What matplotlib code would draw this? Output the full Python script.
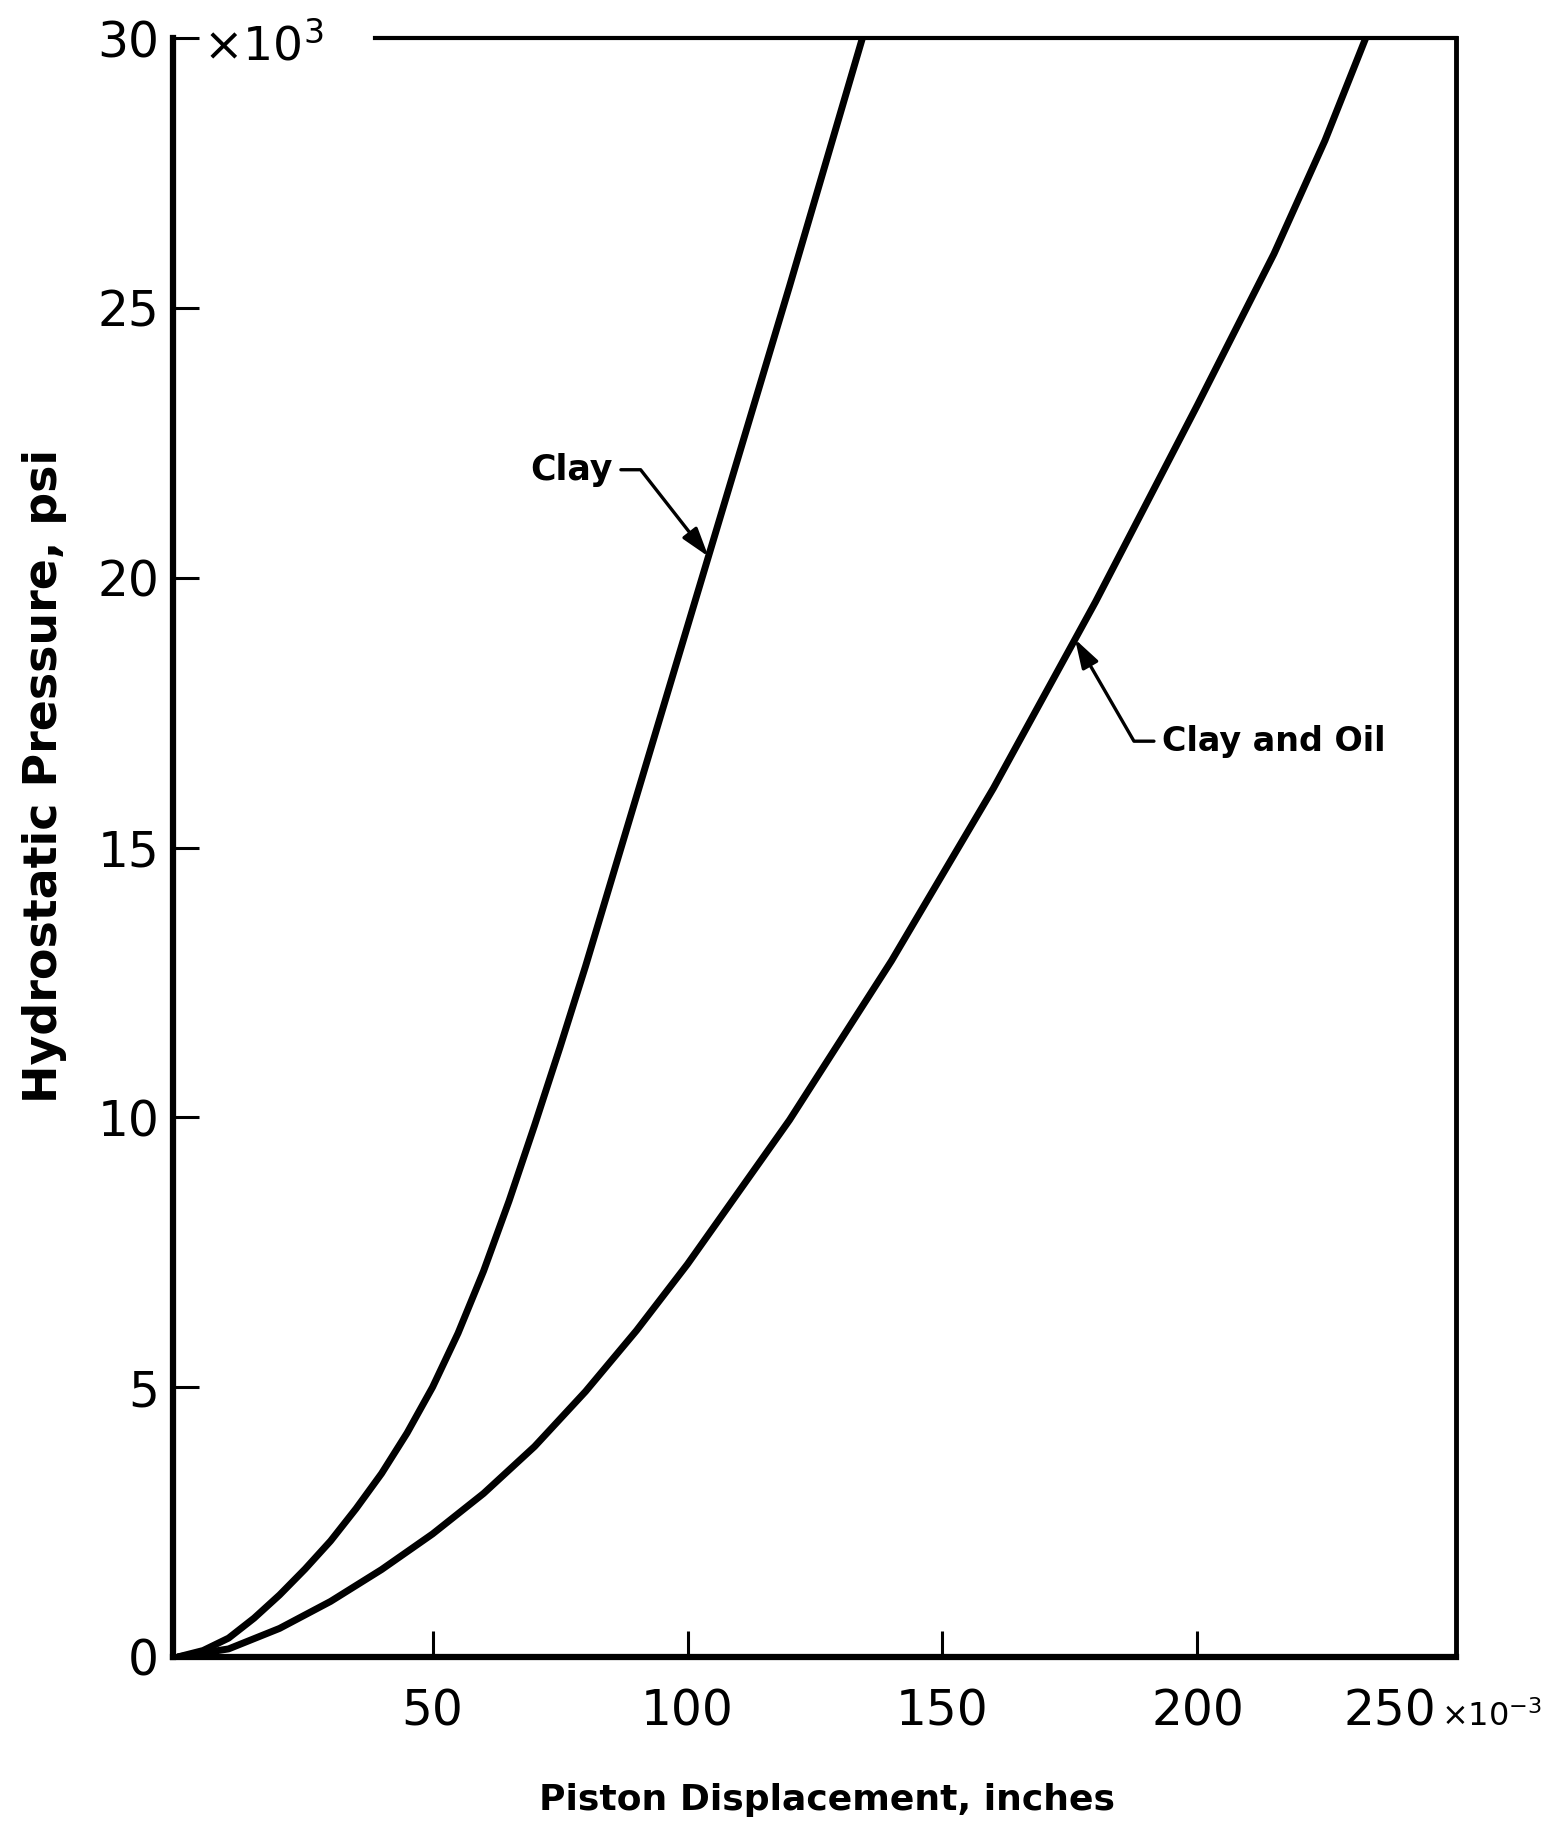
# Piston displacement vs hydrostatic pressure for clay and clay/oil samples
import numpy as np
import matplotlib.pyplot as plt
from matplotlib.transforms import ScaledTranslation

# displacement in 1e-3 inches, pressure in 1e3 psi
clay_x = [0, 5, 10, 15, 20, 25, 30, 35, 40, 45, 50, 55, 60, 65, 70, 75, 80, 90, 100, 110, 120, 134.3]
clay_y = [0, 0.12, 0.35, 0.72, 1.15, 1.63, 2.15, 2.75, 3.4, 4.15, 5.0, 6.0, 7.15, 8.45, 9.85,
          11.3, 12.8, 15.95, 19.1, 22.25, 25.4, 30]

oil_x = [0, 10, 20, 30, 40, 50, 60, 70, 80, 90, 100, 120, 140, 160, 180, 200, 215, 225, 233]
oil_y = [0, 0.15, 0.53, 1.03, 1.62, 2.28, 3.03, 3.9, 4.92, 6.05, 7.28, 9.95, 12.9, 16.1,
         19.55, 23.2, 26.0, 28.1, 30]

xticks = [50, 100, 150, 200, 250]
xticklabels = ['50', '100', '150', '200', '250']
yticks = [0, 5, 10, 15, 20, 25, 30]
yticklabels = ['0', '5', '10', '15', '20', '25', '30']

W, H = 1552, 1823
fig = plt.figure(figsize=(W / 100, H / 100), dpi=100)
ax = fig.add_axes([173 / W, 1 - 1657 / H, (1456 - 173) / W, (1657 - 38) / H])

ax.plot(clay_x, clay_y, color='k', lw=5, solid_capstyle='butt', solid_joinstyle='round')
ax.plot(oil_x, oil_y, color='k', lw=5, solid_capstyle='butt', solid_joinstyle='round')

ax.set_xlim(-0.9, 250.7)
ax.set_ylim(0, 30)

for side in ['left', 'bottom']:
    ax.spines[side].set_linewidth(4.5)
ax.spines['right'].set_linewidth(3.5)
ax.spines['top'].set_linewidth(3)
# top border is broken where the multiplier sits
ax.spines['top'].set_bounds(38.8, 250.7)

ax.set_xticks(xticks)
ax.set_xticklabels(xticklabels)
ax.set_yticks(yticks)
ax.set_yticklabels(yticklabels)
ax.tick_params(axis='both', direction='in', length=19, width=2.2, labelsize=35)
ax.tick_params(axis='x', pad=22)
ax.tick_params(axis='y', pad=10)
ax.xaxis.get_major_ticks()[-1].tick1line.set_visible(False)

# last x label sits left of its tick, followed by the multiplier
last = ax.get_xticklabels()[-1]
last.set_transform(last.get_transform() + ScaledTranslation(-63 / 100, 0, fig.dpi_scale_trans))
ax.text(0.988, -0.0426, r'$\times$10$^{-3}$', transform=ax.transAxes, fontsize=23,
        ha='left', va='baseline', clip_on=False)

ax.text(5, 29.85, r'$\times$10$^{3}$', fontsize=34, ha='left', va='center')

ax.set_xlabel('Piston Displacement, inches', fontsize=26, fontweight='bold')
ax.xaxis.set_label_coords(0.51, -0.078)
ax.set_ylabel('Hydrostatic Pressure, psi', fontsize=33, fontweight='bold')
ax.yaxis.set_label_coords(-0.083, 0.544)

tip_c = 104.1
ax.annotate('Clay', xy=(tip_c, np.interp(tip_c, clay_x, clay_y)), xytext=(85.3, 22.0),
            ha='right', va='center', fontsize=25, fontweight='bold',
            arrowprops=dict(arrowstyle='-|>,head_length=0.7,head_width=0.22', color='k',
                            lw=2.4, mutation_scale=25, shrinkA=4, shrinkB=0,
                            connectionstyle='angle,angleA=0,angleB=128,rad=0'))

tip_o = 176
ax.annotate('Clay and Oil', xy=(tip_o, np.interp(tip_o, oil_x, oil_y)), xytext=(193.1, 16.97),
            ha='left', va='center', fontsize=24, fontweight='bold',
            arrowprops=dict(arrowstyle='-|>,head_length=0.7,head_width=0.22', color='k',
                            lw=2.4, mutation_scale=25, shrinkA=4, shrinkB=0,
                            connectionstyle='angle,angleA=0,angleB=-60,rad=0'))

fig.savefig('out.png', dpi=100)
